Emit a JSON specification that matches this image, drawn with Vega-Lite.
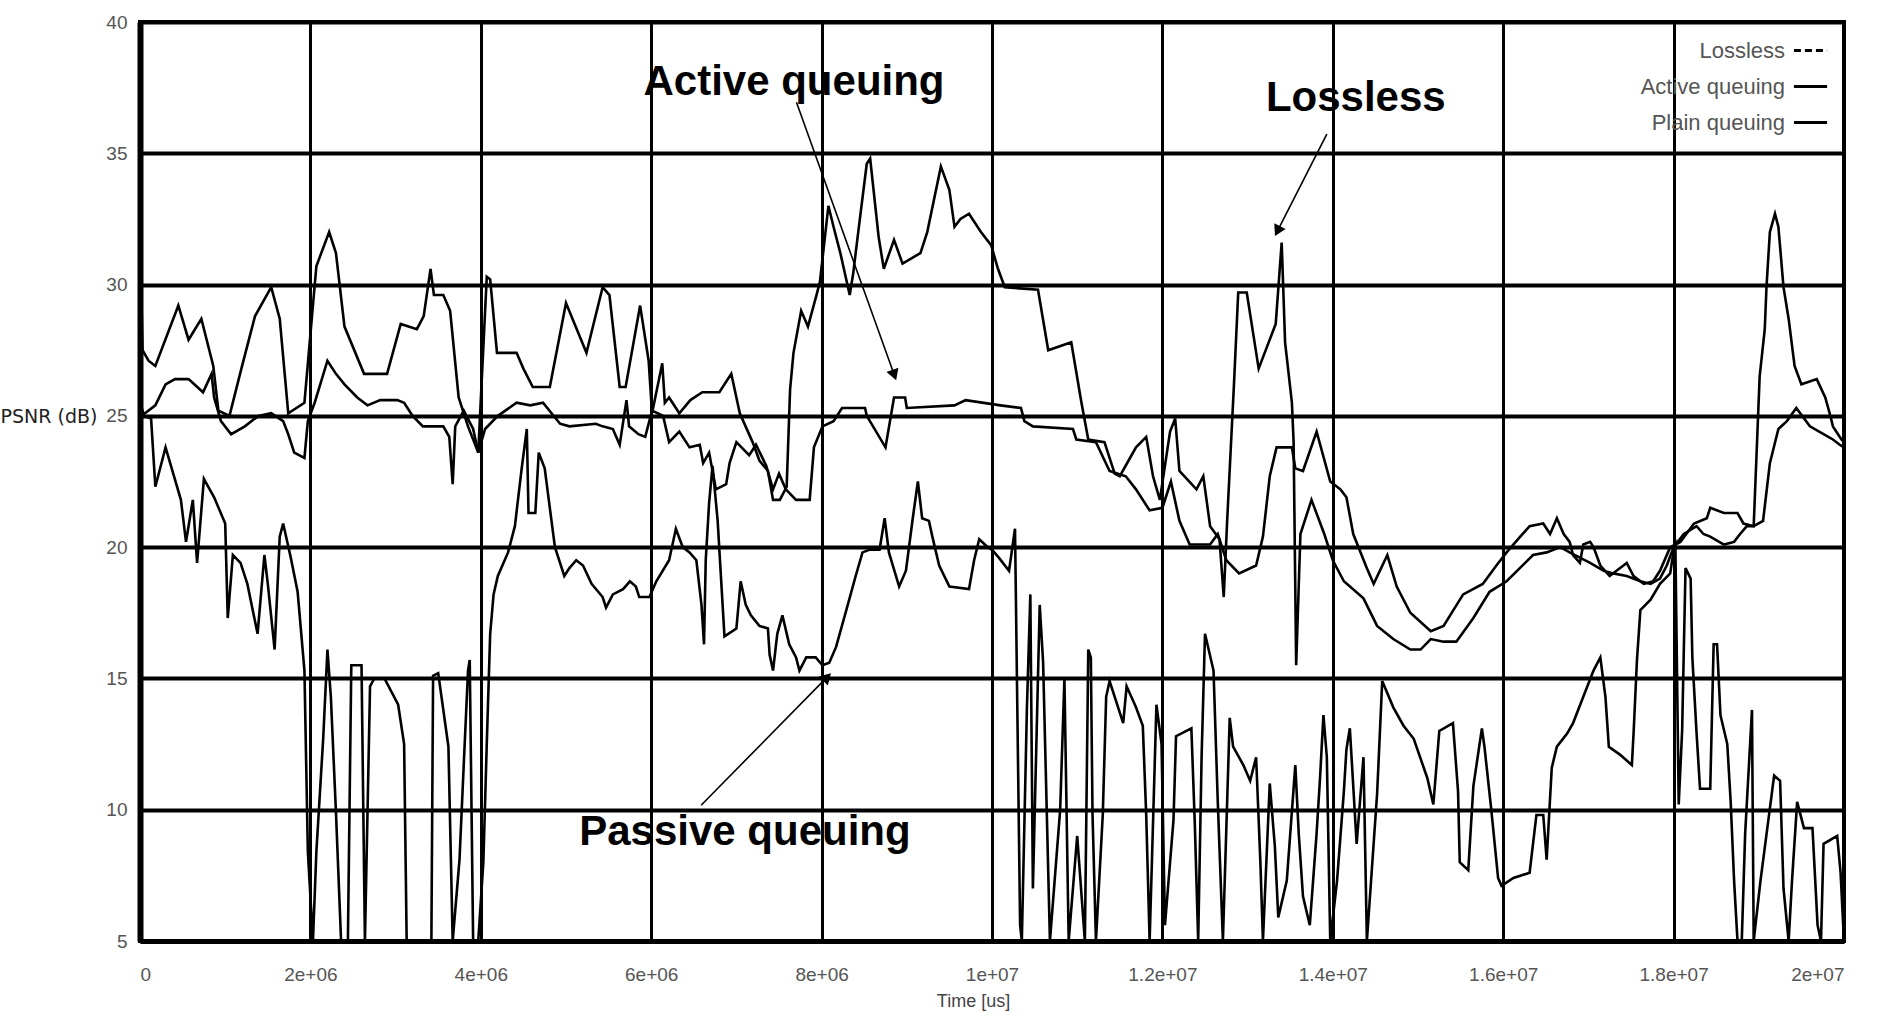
{
  "$schema": "https://vega.github.io/schema/vega-lite/v6.json",
  "width": 1704,
  "height": 919,
  "autosize": {"type": "none"},
  "padding": {"left": 140, "top": 22, "right": 34, "bottom": 87},
  "background": "white",
  "config": {
    "view": {"stroke": "black", "strokeWidth": 4},
    "font": "Liberation Sans"
  },
  "datasets": {
    "psnr": [
      {"series":"Lossless","t":0,"v":32.0},{"series":"Lossless","t":30000,"v":27.5},{"series":"Lossless","t":100000,"v":27.1},{"series":"Lossless","t":180000,"v":26.9},{"series":"Lossless","t":450000,"v":29.2},{"series":"Lossless","t":570000,"v":27.9},{"series":"Lossless","t":720000,"v":28.7},{"series":"Lossless","t":860000,"v":26.9},{"series":"Lossless","t":920000,"v":25.2},{"series":"Lossless","t":1050000,"v":25.0},{"series":"Lossless","t":1190000,"v":26.8},{"series":"Lossless","t":1350000,"v":28.8},{"series":"Lossless","t":1540000,"v":29.9},{"series":"Lossless","t":1640000,"v":28.7},{"series":"Lossless","t":1740000,"v":25.1},{"series":"Lossless","t":1930000,"v":25.5},{"series":"Lossless","t":2070000,"v":30.7},{"series":"Lossless","t":2220000,"v":32.0},{"series":"Lossless","t":2300000,"v":31.2},{"series":"Lossless","t":2400000,"v":28.4},{"series":"Lossless","t":2630000,"v":26.6},{"series":"Lossless","t":2900000,"v":26.6},{"series":"Lossless","t":3060000,"v":28.5},{"series":"Lossless","t":3250000,"v":28.3},{"series":"Lossless","t":3330000,"v":28.8},{"series":"Lossless","t":3410000,"v":30.6},{"series":"Lossless","t":3450000,"v":29.6},{"series":"Lossless","t":3560000,"v":29.6},{"series":"Lossless","t":3640000,"v":29.0},{"series":"Lossless","t":3740000,"v":25.7},{"series":"Lossless","t":3850000,"v":24.6},{"series":"Lossless","t":3970000,"v":23.6},{"series":"Lossless","t":4070000,"v":30.3},{"series":"Lossless","t":4110000,"v":30.2},{"series":"Lossless","t":4190000,"v":27.4},{"series":"Lossless","t":4420000,"v":27.4},{"series":"Lossless","t":4500000,"v":26.8},{"series":"Lossless","t":4610000,"v":26.1},{"series":"Lossless","t":4810000,"v":26.1},{"series":"Lossless","t":5000000,"v":29.3},{"series":"Lossless","t":5240000,"v":27.4},{"series":"Lossless","t":5430000,"v":29.9},{"series":"Lossless","t":5510000,"v":29.6},{"series":"Lossless","t":5630000,"v":26.1},{"series":"Lossless","t":5700000,"v":26.1},{"series":"Lossless","t":5870000,"v":29.2},{"series":"Lossless","t":5970000,"v":27.1},{"series":"Lossless","t":6010000,"v":25.1},{"series":"Lossless","t":6130000,"v":27.0},{"series":"Lossless","t":6160000,"v":25.5},{"series":"Lossless","t":6210000,"v":25.7},{"series":"Lossless","t":6330000,"v":25.1},{"series":"Lossless","t":6460000,"v":25.6},{"series":"Lossless","t":6600000,"v":25.9},{"series":"Lossless","t":6800000,"v":25.9},{"series":"Lossless","t":6940000,"v":26.6},{"series":"Lossless","t":7040000,"v":25.1},{"series":"Lossless","t":7190000,"v":24.0},{"series":"Lossless","t":7270000,"v":23.3},{"series":"Lossless","t":7370000,"v":22.9},{"series":"Lossless","t":7430000,"v":21.8},{"series":"Lossless","t":7510000,"v":21.8},{"series":"Lossless","t":7590000,"v":22.3},{"series":"Lossless","t":7630000,"v":26.0},{"series":"Lossless","t":7670000,"v":27.4},{"series":"Lossless","t":7760000,"v":29.0},{"series":"Lossless","t":7840000,"v":28.4},{"series":"Lossless","t":7940000,"v":29.6},{"series":"Lossless","t":7980000,"v":30.1},{"series":"Lossless","t":8080000,"v":33.0},{"series":"Lossless","t":8140000,"v":32.2},{"series":"Lossless","t":8220000,"v":31.2},{"series":"Lossless","t":8330000,"v":29.6},{"series":"Lossless","t":8370000,"v":30.4},{"series":"Lossless","t":8430000,"v":32.0},{"series":"Lossless","t":8530000,"v":34.6},{"series":"Lossless","t":8570000,"v":34.8},{"series":"Lossless","t":8670000,"v":31.8},{"series":"Lossless","t":8730000,"v":30.6},{"series":"Lossless","t":8850000,"v":31.7},{"series":"Lossless","t":8950000,"v":30.8},{"series":"Lossless","t":9160000,"v":31.2},{"series":"Lossless","t":9240000,"v":32.0},{"series":"Lossless","t":9400000,"v":34.5},{"series":"Lossless","t":9500000,"v":33.6},{"series":"Lossless","t":9560000,"v":32.2},{"series":"Lossless","t":9630000,"v":32.5},{"series":"Lossless","t":9730000,"v":32.7},{"series":"Lossless","t":9870000,"v":32.0},{"series":"Lossless","t":9990000,"v":31.5},{"series":"Lossless","t":10070000,"v":30.6},{"series":"Lossless","t":10150000,"v":29.9},{"series":"Lossless","t":10540000,"v":29.8},{"series":"Lossless","t":10660000,"v":27.5},{"series":"Lossless","t":10930000,"v":27.8},{"series":"Lossless","t":11050000,"v":25.5},{"series":"Lossless","t":11130000,"v":24.1},{"series":"Lossless","t":11320000,"v":24.0},{"series":"Lossless","t":11440000,"v":22.8},{"series":"Lossless","t":11500000,"v":22.7},{"series":"Lossless","t":11690000,"v":23.8},{"series":"Lossless","t":11810000,"v":24.2},{"series":"Lossless","t":11890000,"v":22.7},{"series":"Lossless","t":11970000,"v":21.8},{"series":"Lossless","t":12090000,"v":24.4},{"series":"Lossless","t":12150000,"v":24.9},{"series":"Lossless","t":12200000,"v":22.9},{"series":"Lossless","t":12400000,"v":22.2},{"series":"Lossless","t":12480000,"v":22.7},{"series":"Lossless","t":12560000,"v":20.8},{"series":"Lossless","t":12670000,"v":20.3},{"series":"Lossless","t":12720000,"v":18.1},{"series":"Lossless","t":12760000,"v":21.0},{"series":"Lossless","t":12840000,"v":26.2},{"series":"Lossless","t":12890000,"v":29.7},{"series":"Lossless","t":12990000,"v":29.7},{"series":"Lossless","t":13130000,"v":26.8},{"series":"Lossless","t":13330000,"v":28.5},{"series":"Lossless","t":13400000,"v":31.6},{"series":"Lossless","t":13440000,"v":27.8},{"series":"Lossless","t":13520000,"v":25.5},{"series":"Lossless","t":13540000,"v":24.0},{"series":"Lossless","t":13570000,"v":15.5},{"series":"Lossless","t":13620000,"v":20.5},{"series":"Lossless","t":13750000,"v":21.8},{"series":"Lossless","t":13900000,"v":20.5},{"series":"Lossless","t":14000000,"v":19.5},{"series":"Lossless","t":14130000,"v":18.7},{"series":"Lossless","t":14360000,"v":18.05},{"series":"Lossless","t":14520000,"v":17.0},{"series":"Lossless","t":14710000,"v":16.5},{"series":"Lossless","t":14910000,"v":16.1},{"series":"Lossless","t":15030000,"v":16.1},{"series":"Lossless","t":15150000,"v":16.5},{"series":"Lossless","t":15300000,"v":16.4},{"series":"Lossless","t":15450000,"v":16.4},{"series":"Lossless","t":15650000,"v":17.3},{"series":"Lossless","t":15840000,"v":18.3},{"series":"Lossless","t":16040000,"v":18.7},{"series":"Lossless","t":16350000,"v":19.7},{"series":"Lossless","t":16510000,"v":19.8},{"series":"Lossless","t":16670000,"v":20.0},{"series":"Lossless","t":16780000,"v":19.8},{"series":"Lossless","t":16900000,"v":19.6},{"series":"Lossless","t":17020000,"v":19.4},{"series":"Lossless","t":17180000,"v":19.1},{"series":"Lossless","t":17290000,"v":19.0},{"series":"Lossless","t":17450000,"v":18.9},{"series":"Lossless","t":17610000,"v":18.7},{"series":"Lossless","t":17730000,"v":18.6},{"series":"Lossless","t":17840000,"v":18.8},{"series":"Lossless","t":17920000,"v":19.3},{"series":"Lossless","t":18000000,"v":20.0},{"series":"Lossless","t":18120000,"v":20.5},{"series":"Lossless","t":18270000,"v":20.8},{"series":"Lossless","t":18350000,"v":20.5},{"series":"Lossless","t":18430000,"v":20.4},{"series":"Lossless","t":18590000,"v":20.1},{"series":"Lossless","t":18710000,"v":20.2},{"series":"Lossless","t":18780000,"v":20.5},{"series":"Lossless","t":18860000,"v":20.8},{"series":"Lossless","t":18940000,"v":20.8},{"series":"Lossless","t":19010000,"v":26.5},{"series":"Lossless","t":19070000,"v":28.3},{"series":"Lossless","t":19090000,"v":29.9},{"series":"Lossless","t":19130000,"v":32.0},{"series":"Lossless","t":19190000,"v":32.7},{"series":"Lossless","t":19230000,"v":32.2},{"series":"Lossless","t":19290000,"v":29.9},{"series":"Lossless","t":19350000,"v":28.7},{"series":"Lossless","t":19420000,"v":26.9},{"series":"Lossless","t":19500000,"v":26.2},{"series":"Lossless","t":19680000,"v":26.4},{"series":"Lossless","t":19780000,"v":25.7},{"series":"Lossless","t":19840000,"v":25.0},{"series":"Lossless","t":19870000,"v":24.6},{"series":"Lossless","t":19970000,"v":24.1},{"series":"Lossless","t":20000000,"v":24.0},

      {"series":"Active queuing","t":0,"v":25.0},{"series":"Active queuing","t":60000,"v":25.1},{"series":"Active queuing","t":180000,"v":25.4},{"series":"Active queuing","t":300000,"v":26.2},{"series":"Active queuing","t":410000,"v":26.4},{"series":"Active queuing","t":570000,"v":26.4},{"series":"Active queuing","t":740000,"v":25.9},{"series":"Active queuing","t":840000,"v":26.6},{"series":"Active queuing","t":870000,"v":25.7},{"series":"Active queuing","t":950000,"v":24.8},{"series":"Active queuing","t":1070000,"v":24.3},{"series":"Active queuing","t":1230000,"v":24.6},{"series":"Active queuing","t":1390000,"v":25.0},{"series":"Active queuing","t":1540000,"v":25.1},{"series":"Active queuing","t":1680000,"v":24.8},{"series":"Active queuing","t":1740000,"v":24.3},{"series":"Active queuing","t":1810000,"v":23.6},{"series":"Active queuing","t":1930000,"v":23.4},{"series":"Active queuing","t":1970000,"v":24.8},{"series":"Active queuing","t":2050000,"v":25.5},{"series":"Active queuing","t":2200000,"v":27.1},{"series":"Active queuing","t":2300000,"v":26.6},{"series":"Active queuing","t":2400000,"v":26.2},{"series":"Active queuing","t":2550000,"v":25.7},{"series":"Active queuing","t":2670000,"v":25.4},{"series":"Active queuing","t":2820000,"v":25.6},{"series":"Active queuing","t":3020000,"v":25.6},{"series":"Active queuing","t":3100000,"v":25.5},{"series":"Active queuing","t":3200000,"v":25.0},{"series":"Active queuing","t":3320000,"v":24.6},{"series":"Active queuing","t":3560000,"v":24.6},{"series":"Active queuing","t":3630000,"v":24.2},{"series":"Active queuing","t":3670000,"v":22.4},{"series":"Active queuing","t":3700000,"v":24.6},{"series":"Active queuing","t":3800000,"v":25.2},{"series":"Active queuing","t":3910000,"v":24.5},{"series":"Active queuing","t":3970000,"v":23.6},{"series":"Active queuing","t":4050000,"v":24.5},{"series":"Active queuing","t":4200000,"v":25.0},{"series":"Active queuing","t":4420000,"v":25.5},{"series":"Active queuing","t":4580000,"v":25.4},{"series":"Active queuing","t":4730000,"v":25.5},{"series":"Active queuing","t":4930000,"v":24.7},{"series":"Active queuing","t":5040000,"v":24.6},{"series":"Active queuing","t":5350000,"v":24.7},{"series":"Active queuing","t":5430000,"v":24.6},{"series":"Active queuing","t":5550000,"v":24.5},{"series":"Active queuing","t":5630000,"v":23.9},{"series":"Active queuing","t":5710000,"v":25.6},{"series":"Active queuing","t":5740000,"v":24.6},{"series":"Active queuing","t":5850000,"v":24.3},{"series":"Active queuing","t":5930000,"v":24.2},{"series":"Active queuing","t":6010000,"v":25.2},{"series":"Active queuing","t":6140000,"v":25.0},{"series":"Active queuing","t":6210000,"v":24.0},{"series":"Active queuing","t":6330000,"v":24.4},{"series":"Active queuing","t":6450000,"v":23.8},{"series":"Active queuing","t":6570000,"v":23.9},{"series":"Active queuing","t":6610000,"v":23.2},{"series":"Active queuing","t":6680000,"v":23.6},{"series":"Active queuing","t":6760000,"v":22.2},{"series":"Active queuing","t":6880000,"v":22.4},{"series":"Active queuing","t":6920000,"v":23.2},{"series":"Active queuing","t":7000000,"v":24.0},{"series":"Active queuing","t":7150000,"v":23.5},{"series":"Active queuing","t":7230000,"v":23.9},{"series":"Active queuing","t":7350000,"v":23.1},{"series":"Active queuing","t":7430000,"v":22.2},{"series":"Active queuing","t":7500000,"v":22.8},{"series":"Active queuing","t":7580000,"v":22.2},{"series":"Active queuing","t":7700000,"v":21.8},{"series":"Active queuing","t":7860000,"v":21.8},{"series":"Active queuing","t":7910000,"v":23.8},{"series":"Active queuing","t":8010000,"v":24.6},{"series":"Active queuing","t":8140000,"v":24.8},{"series":"Active queuing","t":8240000,"v":25.3},{"series":"Active queuing","t":8510000,"v":25.3},{"series":"Active queuing","t":8530000,"v":25.0},{"series":"Active queuing","t":8750000,"v":23.8},{"series":"Active queuing","t":8850000,"v":25.7},{"series":"Active queuing","t":8980000,"v":25.7},{"series":"Active queuing","t":9000000,"v":25.3},{"series":"Active queuing","t":9560000,"v":25.4},{"series":"Active queuing","t":9690000,"v":25.6},{"series":"Active queuing","t":10100000,"v":25.4},{"series":"Active queuing","t":10340000,"v":25.3},{"series":"Active queuing","t":10380000,"v":24.8},{"series":"Active queuing","t":10480000,"v":24.6},{"series":"Active queuing","t":10950000,"v":24.5},{"series":"Active queuing","t":10990000,"v":24.1},{"series":"Active queuing","t":11220000,"v":24.0},{"series":"Active queuing","t":11380000,"v":22.9},{"series":"Active queuing","t":11570000,"v":22.7},{"series":"Active queuing","t":11690000,"v":22.2},{"series":"Active queuing","t":11850000,"v":21.4},{"series":"Active queuing","t":12000000,"v":21.5},{"series":"Active queuing","t":12100000,"v":22.5},{"series":"Active queuing","t":12200000,"v":21.0},{"series":"Active queuing","t":12320000,"v":20.1},{"series":"Active queuing","t":12560000,"v":20.1},{"series":"Active queuing","t":12650000,"v":20.5},{"series":"Active queuing","t":12750000,"v":19.5},{"series":"Active queuing","t":12900000,"v":19.0},{"series":"Active queuing","t":13100000,"v":19.3},{"series":"Active queuing","t":13180000,"v":20.4},{"series":"Active queuing","t":13260000,"v":22.7},{"series":"Active queuing","t":13340000,"v":23.8},{"series":"Active queuing","t":13520000,"v":23.8},{"series":"Active queuing","t":13560000,"v":23.0},{"series":"Active queuing","t":13650000,"v":22.9},{"series":"Active queuing","t":13810000,"v":24.4},{"series":"Active queuing","t":13970000,"v":22.5},{"series":"Active queuing","t":14090000,"v":22.2},{"series":"Active queuing","t":14160000,"v":21.9},{"series":"Active queuing","t":14240000,"v":20.5},{"series":"Active queuing","t":14400000,"v":19.2},{"series":"Active queuing","t":14480000,"v":18.6},{"series":"Active queuing","t":14640000,"v":19.7},{"series":"Active queuing","t":14750000,"v":18.5},{"series":"Active queuing","t":14910000,"v":17.5},{"series":"Active queuing","t":15150000,"v":16.8},{"series":"Active queuing","t":15300000,"v":17.0},{"series":"Active queuing","t":15530000,"v":18.2},{"series":"Active queuing","t":15760000,"v":18.6},{"series":"Active queuing","t":15920000,"v":19.3},{"series":"Active queuing","t":16040000,"v":19.8},{"series":"Active queuing","t":16200000,"v":20.4},{"series":"Active queuing","t":16310000,"v":20.8},{"series":"Active queuing","t":16470000,"v":20.9},{"series":"Active queuing","t":16550000,"v":20.5},{"series":"Active queuing","t":16630000,"v":21.1},{"series":"Active queuing","t":16710000,"v":20.5},{"series":"Active queuing","t":16780000,"v":20.2},{"series":"Active queuing","t":16820000,"v":19.7},{"series":"Active queuing","t":16900000,"v":19.4},{"series":"Active queuing","t":16940000,"v":20.1},{"series":"Active queuing","t":17020000,"v":20.2},{"series":"Active queuing","t":17060000,"v":20.0},{"series":"Active queuing","t":17140000,"v":19.3},{"series":"Active queuing","t":17250000,"v":18.9},{"series":"Active queuing","t":17330000,"v":19.1},{"series":"Active queuing","t":17450000,"v":19.4},{"series":"Active queuing","t":17530000,"v":18.9},{"series":"Active queuing","t":17650000,"v":18.6},{"series":"Active queuing","t":17760000,"v":18.7},{"series":"Active queuing","t":17840000,"v":19.1},{"series":"Active queuing","t":17960000,"v":20.0},{"series":"Active queuing","t":18080000,"v":20.2},{"series":"Active queuing","t":18240000,"v":20.9},{"series":"Active queuing","t":18390000,"v":21.1},{"series":"Active queuing","t":18430000,"v":21.5},{"series":"Active queuing","t":18590000,"v":21.3},{"series":"Active queuing","t":18750000,"v":21.3},{"series":"Active queuing","t":18820000,"v":20.9},{"series":"Active queuing","t":18940000,"v":20.8},{"series":"Active queuing","t":19050000,"v":21.0},{"series":"Active queuing","t":19130000,"v":23.2},{"series":"Active queuing","t":19230000,"v":24.5},{"series":"Active queuing","t":19330000,"v":24.8},{"series":"Active queuing","t":19440000,"v":25.3},{"series":"Active queuing","t":19600000,"v":24.6},{"series":"Active queuing","t":19760000,"v":24.3},{"series":"Active queuing","t":19870000,"v":24.1},{"series":"Active queuing","t":19950000,"v":23.9},{"series":"Active queuing","t":20000000,"v":23.8},

      {"series":"Plain queuing","t":0,"v":25.5},{"series":"Plain queuing","t":50000,"v":25.0},{"series":"Plain queuing","t":130000,"v":24.9},{"series":"Plain queuing","t":180000,"v":22.3},{"series":"Plain queuing","t":300000,"v":23.8},{"series":"Plain queuing","t":480000,"v":21.8},{"series":"Plain queuing","t":540000,"v":20.2},{"series":"Plain queuing","t":620000,"v":21.8},{"series":"Plain queuing","t":670000,"v":19.4},{"series":"Plain queuing","t":750000,"v":22.6},{"series":"Plain queuing","t":870000,"v":21.9},{"series":"Plain queuing","t":1000000,"v":20.9},{"series":"Plain queuing","t":1030000,"v":17.3},{"series":"Plain queuing","t":1090000,"v":19.7},{"series":"Plain queuing","t":1180000,"v":19.4},{"series":"Plain queuing","t":1260000,"v":18.6},{"series":"Plain queuing","t":1380000,"v":16.7},{"series":"Plain queuing","t":1460000,"v":19.7},{"series":"Plain queuing","t":1500000,"v":18.6},{"series":"Plain queuing","t":1580000,"v":16.1},{"series":"Plain queuing","t":1640000,"v":20.4},{"series":"Plain queuing","t":1680000,"v":20.9},{"series":"Plain queuing","t":1770000,"v":19.6},{"series":"Plain queuing","t":1850000,"v":18.3},{"series":"Plain queuing","t":1930000,"v":15.3},{"series":"Plain queuing","t":1970000,"v":8.4},{"series":"Plain queuing","t":2030000,"v":5.0},{"series":"Plain queuing","t":2070000,"v":8.4},{"series":"Plain queuing","t":2150000,"v":12.7},{"series":"Plain queuing","t":2200000,"v":16.1},{"series":"Plain queuing","t":2240000,"v":14.3},{"series":"Plain queuing","t":2300000,"v":9.9},{"series":"Plain queuing","t":2360000,"v":5.0},{"series":"Plain queuing","t":2440000,"v":5.0},{"series":"Plain queuing","t":2480000,"v":15.5},{"series":"Plain queuing","t":2600000,"v":15.5},{"series":"Plain queuing","t":2640000,"v":5.0},{"series":"Plain queuing","t":2700000,"v":14.7},{"series":"Plain queuing","t":2750000,"v":15.0},{"series":"Plain queuing","t":2870000,"v":15.0},{"series":"Plain queuing","t":3030000,"v":14.0},{"series":"Plain queuing","t":3100000,"v":12.5},{"series":"Plain queuing","t":3130000,"v":5.0},{"series":"Plain queuing","t":3420000,"v":5.0},{"series":"Plain queuing","t":3440000,"v":15.1},{"series":"Plain queuing","t":3500000,"v":15.2},{"series":"Plain queuing","t":3620000,"v":12.4},{"series":"Plain queuing","t":3670000,"v":5.0},{"series":"Plain queuing","t":3750000,"v":8.1},{"series":"Plain queuing","t":3790000,"v":11.0},{"series":"Plain queuing","t":3850000,"v":15.3},{"series":"Plain queuing","t":3870000,"v":15.7},{"series":"Plain queuing","t":3910000,"v":5.0},{"series":"Plain queuing","t":3970000,"v":5.0},{"series":"Plain queuing","t":4030000,"v":8.0},{"series":"Plain queuing","t":4070000,"v":12.5},{"series":"Plain queuing","t":4110000,"v":16.7},{"series":"Plain queuing","t":4150000,"v":18.2},{"series":"Plain queuing","t":4200000,"v":18.9},{"series":"Plain queuing","t":4320000,"v":19.8},{"series":"Plain queuing","t":4400000,"v":20.8},{"series":"Plain queuing","t":4480000,"v":23.0},{"series":"Plain queuing","t":4540000,"v":24.5},{"series":"Plain queuing","t":4560000,"v":21.3},{"series":"Plain queuing","t":4640000,"v":21.3},{"series":"Plain queuing","t":4680000,"v":23.6},{"series":"Plain queuing","t":4750000,"v":23.0},{"series":"Plain queuing","t":4870000,"v":20.0},{"series":"Plain queuing","t":4980000,"v":18.9},{"series":"Plain queuing","t":5040000,"v":19.2},{"series":"Plain queuing","t":5120000,"v":19.5},{"series":"Plain queuing","t":5200000,"v":19.3},{"series":"Plain queuing","t":5300000,"v":18.6},{"series":"Plain queuing","t":5430000,"v":18.1},{"series":"Plain queuing","t":5470000,"v":17.7},{"series":"Plain queuing","t":5550000,"v":18.2},{"series":"Plain queuing","t":5670000,"v":18.4},{"series":"Plain queuing","t":5750000,"v":18.7},{"series":"Plain queuing","t":5820000,"v":18.5},{"series":"Plain queuing","t":5860000,"v":18.1},{"series":"Plain queuing","t":5980000,"v":18.1},{"series":"Plain queuing","t":6060000,"v":18.7},{"series":"Plain queuing","t":6210000,"v":19.5},{"series":"Plain queuing","t":6290000,"v":20.7},{"series":"Plain queuing","t":6370000,"v":20.0},{"series":"Plain queuing","t":6450000,"v":19.8},{"series":"Plain queuing","t":6530000,"v":19.5},{"series":"Plain queuing","t":6590000,"v":17.8},{"series":"Plain queuing","t":6620000,"v":16.3},{"series":"Plain queuing","t":6640000,"v":19.5},{"series":"Plain queuing","t":6680000,"v":21.7},{"series":"Plain queuing","t":6720000,"v":23.1},{"series":"Plain queuing","t":6780000,"v":21.0},{"series":"Plain queuing","t":6860000,"v":16.6},{"series":"Plain queuing","t":7000000,"v":16.9},{"series":"Plain queuing","t":7050000,"v":18.7},{"series":"Plain queuing","t":7110000,"v":17.8},{"series":"Plain queuing","t":7170000,"v":17.4},{"series":"Plain queuing","t":7270000,"v":17.0},{"series":"Plain queuing","t":7370000,"v":16.9},{"series":"Plain queuing","t":7390000,"v":15.9},{"series":"Plain queuing","t":7430000,"v":15.3},{"series":"Plain queuing","t":7480000,"v":16.7},{"series":"Plain queuing","t":7540000,"v":17.4},{"series":"Plain queuing","t":7620000,"v":16.3},{"series":"Plain queuing","t":7700000,"v":15.8},{"series":"Plain queuing","t":7740000,"v":15.3},{"series":"Plain queuing","t":7820000,"v":15.8},{"series":"Plain queuing","t":7930000,"v":15.8},{"series":"Plain queuing","t":8010000,"v":15.5},{"series":"Plain queuing","t":8090000,"v":15.6},{"series":"Plain queuing","t":8170000,"v":16.2},{"series":"Plain queuing","t":8290000,"v":17.6},{"series":"Plain queuing","t":8400000,"v":18.9},{"series":"Plain queuing","t":8480000,"v":19.8},{"series":"Plain queuing","t":8560000,"v":19.9},{"series":"Plain queuing","t":8680000,"v":19.9},{"series":"Plain queuing","t":8740000,"v":21.1},{"series":"Plain queuing","t":8790000,"v":19.8},{"series":"Plain queuing","t":8910000,"v":18.5},{"series":"Plain queuing","t":8990000,"v":19.1},{"series":"Plain queuing","t":9070000,"v":21.1},{"series":"Plain queuing","t":9130000,"v":22.5},{"series":"Plain queuing","t":9180000,"v":21.1},{"series":"Plain queuing","t":9260000,"v":21.0},{"series":"Plain queuing","t":9300000,"v":20.4},{"series":"Plain queuing","t":9380000,"v":19.3},{"series":"Plain queuing","t":9500000,"v":18.5},{"series":"Plain queuing","t":9730000,"v":18.4},{"series":"Plain queuing","t":9790000,"v":19.5},{"series":"Plain queuing","t":9850000,"v":20.3},{"series":"Plain queuing","t":9950000,"v":20.0},{"series":"Plain queuing","t":10000000,"v":19.9},{"series":"Plain queuing","t":10080000,"v":19.6},{"series":"Plain queuing","t":10200000,"v":19.1},{"series":"Plain queuing","t":10270000,"v":20.7},{"series":"Plain queuing","t":10330000,"v":5.6},{"series":"Plain queuing","t":10350000,"v":5.0},{"series":"Plain queuing","t":10410000,"v":13.9},{"series":"Plain queuing","t":10450000,"v":18.2},{"series":"Plain queuing","t":10480000,"v":7.0},{"series":"Plain queuing","t":10560000,"v":17.8},{"series":"Plain queuing","t":10600000,"v":15.6},{"series":"Plain queuing","t":10680000,"v":5.0},{"series":"Plain queuing","t":10800000,"v":10.0},{"series":"Plain queuing","t":10850000,"v":15.0},{"series":"Plain queuing","t":10900000,"v":5.0},{"series":"Plain queuing","t":11000000,"v":9.0},{"series":"Plain queuing","t":11090000,"v":5.0},{"series":"Plain queuing","t":11130000,"v":16.1},{"series":"Plain queuing","t":11160000,"v":15.8},{"series":"Plain queuing","t":11180000,"v":9.8},{"series":"Plain queuing","t":11220000,"v":5.0},{"series":"Plain queuing","t":11300000,"v":9.8},{"series":"Plain queuing","t":11340000,"v":14.3},{"series":"Plain queuing","t":11380000,"v":14.9},{"series":"Plain queuing","t":11540000,"v":13.3},{"series":"Plain queuing","t":11580000,"v":14.7},{"series":"Plain queuing","t":11690000,"v":13.9},{"series":"Plain queuing","t":11770000,"v":13.2},{"series":"Plain queuing","t":11810000,"v":9.8},{"series":"Plain queuing","t":11850000,"v":5.0},{"series":"Plain queuing","t":11930000,"v":14.0},{"series":"Plain queuing","t":11990000,"v":12.5},{"series":"Plain queuing","t":12030000,"v":5.6},{"series":"Plain queuing","t":12130000,"v":9.6},{"series":"Plain queuing","t":12160000,"v":12.8},{"series":"Plain queuing","t":12340000,"v":13.1},{"series":"Plain queuing","t":12380000,"v":9.5},{"series":"Plain queuing","t":12420000,"v":5.0},{"series":"Plain queuing","t":12460000,"v":12.0},{"series":"Plain queuing","t":12500000,"v":16.7},{"series":"Plain queuing","t":12600000,"v":15.3},{"series":"Plain queuing","t":12650000,"v":10.3},{"series":"Plain queuing","t":12710000,"v":5.0},{"series":"Plain queuing","t":12790000,"v":13.5},{"series":"Plain queuing","t":12830000,"v":12.4},{"series":"Plain queuing","t":12950000,"v":11.7},{"series":"Plain queuing","t":13030000,"v":11.1},{"series":"Plain queuing","t":13100000,"v":12.0},{"series":"Plain queuing","t":13150000,"v":8.0},{"series":"Plain queuing","t":13180000,"v":5.0},{"series":"Plain queuing","t":13260000,"v":11.0},{"series":"Plain queuing","t":13320000,"v":8.6},{"series":"Plain queuing","t":13360000,"v":5.9},{"series":"Plain queuing","t":13460000,"v":7.3},{"series":"Plain queuing","t":13560000,"v":11.7},{"series":"Plain queuing","t":13600000,"v":9.1},{"series":"Plain queuing","t":13650000,"v":6.7},{"series":"Plain queuing","t":13730000,"v":5.6},{"series":"Plain queuing","t":13810000,"v":9.1},{"series":"Plain queuing","t":13850000,"v":11.2},{"series":"Plain queuing","t":13890000,"v":13.6},{"series":"Plain queuing","t":13930000,"v":12.0},{"series":"Plain queuing","t":13970000,"v":5.0},{"series":"Plain queuing","t":14050000,"v":7.3},{"series":"Plain queuing","t":14130000,"v":10.7},{"series":"Plain queuing","t":14160000,"v":12.3},{"series":"Plain queuing","t":14200000,"v":13.1},{"series":"Plain queuing","t":14280000,"v":8.7},{"series":"Plain queuing","t":14360000,"v":12.0},{"series":"Plain queuing","t":14400000,"v":5.0},{"series":"Plain queuing","t":14460000,"v":7.8},{"series":"Plain queuing","t":14520000,"v":10.6},{"series":"Plain queuing","t":14580000,"v":14.9},{"series":"Plain queuing","t":14710000,"v":13.9},{"series":"Plain queuing","t":14830000,"v":13.2},{"series":"Plain queuing","t":14950000,"v":12.7},{"series":"Plain queuing","t":15110000,"v":11.2},{"series":"Plain queuing","t":15180000,"v":10.2},{"series":"Plain queuing","t":15250000,"v":13.0},{"series":"Plain queuing","t":15410000,"v":13.3},{"series":"Plain queuing","t":15470000,"v":10.7},{"series":"Plain queuing","t":15490000,"v":8.0},{"series":"Plain queuing","t":15590000,"v":7.7},{"series":"Plain queuing","t":15650000,"v":10.9},{"series":"Plain queuing","t":15750000,"v":13.1},{"series":"Plain queuing","t":15780000,"v":12.4},{"series":"Plain queuing","t":15860000,"v":10.0},{"series":"Plain queuing","t":15940000,"v":7.4},{"series":"Plain queuing","t":15980000,"v":7.1},{"series":"Plain queuing","t":16120000,"v":7.4},{"series":"Plain queuing","t":16310000,"v":7.6},{"series":"Plain queuing","t":16390000,"v":9.8},{"series":"Plain queuing","t":16470000,"v":9.8},{"series":"Plain queuing","t":16510000,"v":8.1},{"series":"Plain queuing","t":16570000,"v":11.6},{"series":"Plain queuing","t":16630000,"v":12.4},{"series":"Plain queuing","t":16750000,"v":12.9},{"series":"Plain queuing","t":16820000,"v":13.3},{"series":"Plain queuing","t":16940000,"v":14.3},{"series":"Plain queuing","t":17060000,"v":15.3},{"series":"Plain queuing","t":17140000,"v":15.8},{"series":"Plain queuing","t":17200000,"v":14.3},{"series":"Plain queuing","t":17240000,"v":12.4},{"series":"Plain queuing","t":17370000,"v":12.1},{"series":"Plain queuing","t":17510000,"v":11.7},{"series":"Plain queuing","t":17530000,"v":12.9},{"series":"Plain queuing","t":17570000,"v":15.7},{"series":"Plain queuing","t":17610000,"v":17.6},{"series":"Plain queuing","t":17730000,"v":18.0},{"series":"Plain queuing","t":17840000,"v":18.6},{"series":"Plain queuing","t":17960000,"v":19.0},{"series":"Plain queuing","t":18020000,"v":20.3},{"series":"Plain queuing","t":18060000,"v":10.2},{"series":"Plain queuing","t":18100000,"v":13.0},{"series":"Plain queuing","t":18140000,"v":19.2},{"series":"Plain queuing","t":18200000,"v":18.8},{"series":"Plain queuing","t":18220000,"v":15.8},{"series":"Plain queuing","t":18270000,"v":12.9},{"series":"Plain queuing","t":18310000,"v":10.8},{"series":"Plain queuing","t":18430000,"v":10.8},{"series":"Plain queuing","t":18470000,"v":16.3},{"series":"Plain queuing","t":18510000,"v":16.3},{"series":"Plain queuing","t":18550000,"v":13.6},{"series":"Plain queuing","t":18630000,"v":12.5},{"series":"Plain queuing","t":18670000,"v":10.3},{"series":"Plain queuing","t":18710000,"v":7.3},{"series":"Plain queuing","t":18750000,"v":5.0},{"series":"Plain queuing","t":18800000,"v":5.0},{"series":"Plain queuing","t":18840000,"v":9.1},{"series":"Plain queuing","t":18920000,"v":13.8},{"series":"Plain queuing","t":18940000,"v":5.0},{"series":"Plain queuing","t":19020000,"v":7.3},{"series":"Plain queuing","t":19180000,"v":11.3},{"series":"Plain queuing","t":19250000,"v":11.1},{"series":"Plain queuing","t":19290000,"v":7.0},{"series":"Plain queuing","t":19350000,"v":5.0},{"series":"Plain queuing","t":19390000,"v":7.3},{"series":"Plain queuing","t":19450000,"v":10.3},{"series":"Plain queuing","t":19530000,"v":9.3},{"series":"Plain queuing","t":19630000,"v":9.3},{"series":"Plain queuing","t":19690000,"v":5.6},{"series":"Plain queuing","t":19730000,"v":5.0},{"series":"Plain queuing","t":19760000,"v":8.7},{"series":"Plain queuing","t":19920000,"v":9.0},{"series":"Plain queuing","t":19960000,"v":7.6},{"series":"Plain queuing","t":20000000,"v":5.0}
    ],
    "labels": [
      {"label": "Active queuing", "t": 7676000, "v": 37.7},
      {"label": "Lossless", "t": 14270000, "v": 37.09},
      {"label": "Passive queuing", "t": 7100000, "v": 9.15}
    ],
    "arrows": [
      {"label": "Active queuing", "t": 7705000, "v": 36.94, "t2": 8846000, "v2": 26.62},
      {"label": "Lossless", "t": 13930000, "v": 35.73, "t2": 13360000, "v2": 32.1},
      {"label": "Passive queuing", "t": 6586000, "v": 10.17, "t2": 8050000, "v2": 15.0}
    ]
  },
  "layer": [
    {
      "data": {"name": "psnr"},
      "mark": {"type": "line", "strokeWidth": 2.6, "clip": true},
      "encoding": {
        "x": {
          "field": "t", "type": "quantitative",
          "scale": {"domain": [0, 20000000], "nice": false, "zero": false},
          "axis": {
            "values": [0, 2000000, 4000000, 6000000, 8000000, 10000000, 12000000, 14000000, 16000000, 18000000, 20000000],
            "labelExpr": "datum.value == 0 ? '0' : (datum.value < 10000000 ? format(datum.value / 1000000, 'd') + 'e+06' : format(datum.value / 10000000, '~g') + 'e+07')",
            "grid": true, "gridColor": "black", "gridWidth": 3, "gridOpacity": 1,
            "domainColor": "black", "domainWidth": 5,
            "ticks": false,
            "labelPadding": 24,
            "labelFont": "Liberation Sans",
            "labelFontSize": 19, "labelColor": "#555",
            "title": "Time [us]",
            "titleFont": "Liberation Sans",
            "titleFontSize": 18, "titleFontWeight": "normal", "titleColor": "#444",
            "titlePadding": 8, "titleX": 833
          }
        },
        "y": {
          "field": "v", "type": "quantitative",
          "scale": {"domain": [5, 40], "nice": false, "zero": false},
          "axis": {
            "values": [5, 10, 15, 20, 25, 30, 35, 40],
            "grid": true, "gridColor": "black", "gridWidth": 4, "gridOpacity": 1,
            "domainColor": "black", "domainWidth": 6,
            "ticks": false,
            "labelPadding": 13,
            "labelFont": "Liberation Sans",
            "labelFontSize": 19, "labelColor": "#555",
            "title": "PSNR (dB)",
            "titleFont": "DejaVu Sans", "titleFontSize": 19, "titleFontWeight": "normal", "titleColor": "#222",
            "titleAngle": 0, "titleAlign": "left", "titleBaseline": "middle",
            "titleX": -140, "titleY": 394
          }
        },
        "color": {
          "field": "series", "type": "nominal",
          "scale": {"domain": ["Lossless", "Active queuing", "Plain queuing"], "range": ["black", "black", "black"]},
          "legend": {
            "title": null,
            "orient": "top-right",
            "offset": 10,
            "symbolType": "stroke",
            "symbolSize": 1100,
            "symbolStrokeWidth": 3,
            "labelFont": "Liberation Sans",
            "labelFontSize": 22,
            "labelColor": "#555",
            "labelAlign": "right",
            "labelOffset": -44,
            "rowPadding": 6,
            "encode": {
              "symbols": {
                "update": {"strokeDash": {"signal": "datum.value === 'Lossless' ? [7, 4] : [1, 0]"}}
              }
            }
          }
        }
      }
    },
    {
      "data": {"name": "arrows"},
      "mark": {"type": "rule", "color": "black", "strokeWidth": 1.6},
      "encoding": {
        "x": {"field": "t", "type": "quantitative", "scale": {"domain": [0, 20000000], "nice": false, "zero": false}},
        "y": {"field": "v", "type": "quantitative", "scale": {"domain": [5, 40], "nice": false, "zero": false}},
        "x2": {"field": "t2"},
        "y2": {"field": "v2"}
      }
    },
    {
      "data": {"name": "arrows"},
      "transform": [{"filter": "datum.label === 'Active queuing'"}],
      "mark": {"type": "point", "shape": "triangle", "filled": true, "color": "black", "size": 160, "angle": 160, "opacity": 1},
      "encoding": {
        "x": {"field": "t2", "type": "quantitative"},
        "y": {"field": "v2", "type": "quantitative"}
      }
    },
    {
      "data": {"name": "arrows"},
      "transform": [{"filter": "datum.label === 'Lossless'"}],
      "mark": {"type": "point", "shape": "triangle", "filled": true, "color": "black", "size": 160, "angle": 207, "opacity": 1},
      "encoding": {
        "x": {"field": "t2", "type": "quantitative"},
        "y": {"field": "v2", "type": "quantitative"}
      }
    },
    {
      "data": {"name": "arrows"},
      "transform": [{"filter": "datum.label === 'Passive queuing'"}],
      "mark": {"type": "point", "shape": "triangle", "filled": true, "color": "black", "size": 160, "angle": 44.5, "opacity": 1},
      "encoding": {
        "x": {"field": "t2", "type": "quantitative"},
        "y": {"field": "v2", "type": "quantitative"}
      }
    },
    {
      "data": {"name": "labels"},
      "mark": {"type": "text", "font": "Liberation Sans", "fontWeight": "bold", "fontSize": 42, "align": "center", "baseline": "middle", "color": "black"},
      "encoding": {
        "x": {"field": "t", "type": "quantitative"},
        "y": {"field": "v", "type": "quantitative"},
        "text": {"field": "label", "type": "nominal"}
      }
    }
  ]
}
